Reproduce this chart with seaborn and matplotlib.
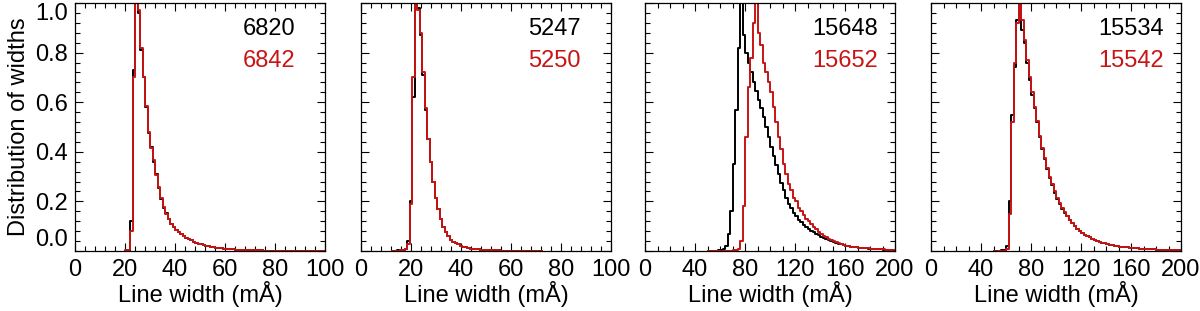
import numpy as np
import matplotlib
matplotlib.use("Agg")
import matplotlib.pyplot as plt
import seaborn as sns
from matplotlib.ticker import MultipleLocator

# line names shown in each panel (black, red)
labels = [("6820", "6842"), ("5247", "5250"), ("15648", "15652"), ("15534", "15542")]

# panel 1: bins of 1 mA starting at 20
p1_start, p1_width = 20, 1
p1_black = [0, 0, 0.12, 0.73, 1.0, 0.96, 0.81, 0.70, 0.58, 0.475,
            0.42, 0.36, 0.31, 0.255, 0.21, 0.175, 0.155, 0.128, 0.108, 0.095,
            0.085, 0.075, 0.067, 0.060, 0.054, 0.048, 0.043, 0.038, 0.034, 0.030,
            0.027, 0.024, 0.021, 0.019, 0.017, 0.015, 0.013, 0.012, 0.011, 0.010,
            0.009, 0.008, 0.007, 0.007, 0.006, 0.006, 0.005, 0.005, 0.004, 0.004,
            0.004, 0.003, 0.003, 0.003, 0.003, 0.002, 0.002, 0.002, 0.002, 0.002,
            0.002, 0.002, 0.002, 0.001, 0.001, 0.001, 0.001, 0.001, 0.001, 0.001,
            0.001, 0.001, 0.001, 0.001, 0.001, 0.001, 0.001, 0.001, 0.001, 0.001]
p1_red = [0.004, 0.003, 0.08, 0.70, 1.0, 0.97, 0.82, 0.70, 0.585, 0.48,
          0.415, 0.365, 0.305, 0.26, 0.215, 0.178, 0.15, 0.13, 0.11, 0.096,
          0.086, 0.076, 0.068, 0.061, 0.054, 0.048, 0.043, 0.038, 0.034, 0.030,
          0.027, 0.024, 0.021, 0.019, 0.017, 0.015, 0.013, 0.012, 0.011, 0.010,
          0.009, 0.008, 0.007, 0.007, 0.006, 0.006, 0.005, 0.005, 0.004, 0.004,
          0.004, 0.003, 0.003, 0.003, 0.003, 0.002, 0.002, 0.002, 0.002, 0.002,
          0.002, 0.002, 0.002, 0.001, 0.001, 0.001, 0.001, 0.001, 0.001, 0.001,
          0.001, 0.001, 0.001, 0.001, 0.001, 0.001, 0.001, 0.001, 0.001, 0.001]

# panel 2: bins of 1 mA starting at 12.5
p2_start, p2_width = 12.5, 1
p2_black = [0, 0.002, 0.003, 0.004, 0.005, 0.010, 0.04, 0.20, 0.62, 1.0,
            0.98, 0.87, 0.71, 0.57, 0.45, 0.36, 0.28, 0.215, 0.17, 0.13,
            0.095, 0.075, 0.06, 0.045, 0.038, 0.032, 0.027, 0.022, 0.018, 0.015,
            0.012, 0.010, 0.009, 0.008, 0.007, 0.006, 0.005, 0.005, 0.004, 0.004,
            0.003, 0.003, 0.003, 0.002, 0.002, 0.002, 0.002, 0.002, 0.001, 0.001,
            0.001, 0.001, 0.001, 0.001, 0.001, 0.001, 0.001, 0.001, 0.001, 0.001]
p2_red = [0, 0.001, 0.002, 0.003, 0.004, 0.008, 0.03, 0.19, 0.70, 1.0,
          0.97, 0.88, 0.72, 0.575, 0.45, 0.36, 0.28, 0.215, 0.17, 0.13,
          0.095, 0.075, 0.06, 0.045, 0.038, 0.032, 0.027, 0.022, 0.018, 0.015,
          0.012, 0.010, 0.009, 0.008, 0.007, 0.006, 0.005, 0.005, 0.004, 0.004,
          0.003, 0.003, 0.003, 0.002, 0.002, 0.002, 0.002, 0.002, 0.001, 0.001,
          0.001, 0.001, 0.001, 0.001, 0.001, 0.001, 0.001, 0.001, 0.001, 0.001]

# panel 3: bins of 2 mA starting at 50
p3_start, p3_width = 50, 2
p3_black = [0, 0.001, 0.002, 0.002, 0.003, 0.004, 0.008, 0.02, 0.07, 0.16,
            0.35, 0.57, 0.82, 1.0, 0.87, 0.80, 0.76, 0.72, 0.68, 0.645,
            0.61, 0.575, 0.54, 0.50, 0.46, 0.42, 0.385, 0.345, 0.31, 0.275,
            0.245, 0.215, 0.19, 0.175, 0.155, 0.14, 0.125, 0.115, 0.105, 0.095,
            0.088, 0.080, 0.075, 0.068, 0.063, 0.058, 0.053, 0.048, 0.044, 0.040,
            0.036, 0.033, 0.030, 0.027, 0.025, 0.022, 0.020, 0.018, 0.017, 0.015,
            0.014, 0.013, 0.012, 0.011, 0.010, 0.009, 0.008, 0.008, 0.007, 0.007,
            0.006, 0.006, 0.005, 0.005, 0.004]
p3_red = [0, 0, 0, 0, 0, 0, 0, 0, 0, 0.002,
          0.003, 0.005, 0.01, 0.04, 0.18, 0.46, 0.66, 0.78, 0.92, 1.0,
          0.88, 0.83, 0.76, 0.72, 0.68, 0.64, 0.58, 0.52, 0.46, 0.41,
          0.35, 0.31, 0.27, 0.245, 0.215, 0.20, 0.175, 0.16, 0.145, 0.13,
          0.12, 0.11, 0.098, 0.088, 0.078, 0.068, 0.062, 0.056, 0.050, 0.045,
          0.040, 0.036, 0.032, 0.029, 0.026, 0.022, 0.020, 0.018, 0.016, 0.015,
          0.014, 0.013, 0.012, 0.012, 0.011, 0.010, 0.009, 0.008, 0.008, 0.007,
          0.007, 0.006, 0.006, 0.005, 0.005]

# panel 4: bins of 2 mA starting at 50
p4_start, p4_width = 50, 2
p4_black = [0, 0.001, 0.002, 0.003, 0.005, 0.02, 0.20, 0.55, 0.74, 0.93,
            1.0, 0.89, 0.84, 0.76, 0.69, 0.63, 0.575, 0.52, 0.46, 0.41,
            0.37, 0.33, 0.295, 0.265, 0.235, 0.21, 0.19, 0.17, 0.155, 0.14,
            0.125, 0.112, 0.10, 0.09, 0.08, 0.073, 0.066, 0.06, 0.055, 0.05,
            0.046, 0.042, 0.038, 0.034, 0.031, 0.028, 0.026, 0.024, 0.022, 0.020,
            0.018, 0.017, 0.016, 0.015, 0.014, 0.013, 0.012, 0.011, 0.010, 0.009,
            0.009, 0.008, 0.008, 0.007, 0.007, 0.006, 0.006, 0.006, 0.005, 0.005,
            0.005, 0.004, 0.004, 0.004, 0.004]
p4_red = [0, 0, 0.001, 0.001, 0.002, 0.01, 0.15, 0.52, 0.76, 0.92,
          1.0, 0.93, 0.85, 0.77, 0.70, 0.64, 0.58, 0.525, 0.465, 0.415,
          0.375, 0.335, 0.30, 0.27, 0.24, 0.215, 0.193, 0.172, 0.156, 0.14,
          0.125, 0.112, 0.10, 0.09, 0.08, 0.073, 0.066, 0.06, 0.055, 0.05,
          0.046, 0.042, 0.038, 0.034, 0.031, 0.028, 0.026, 0.024, 0.022, 0.020,
          0.018, 0.017, 0.016, 0.015, 0.014, 0.013, 0.012, 0.011, 0.010, 0.009,
          0.009, 0.008, 0.008, 0.007, 0.007, 0.006, 0.006, 0.006, 0.005, 0.005,
          0.005, 0.004, 0.004, 0.004, 0.004]

panels = [
    (p1_start, p1_width, p1_black, p1_red, 100, 20, 4),
    (p2_start, p2_width, p2_black, p2_red, 100, 20, 4),
    (p3_start, p3_width, p3_black, p3_red, 200, 40, 10),
    (p4_start, p4_width, p4_black, p4_red, 200, 40, 10),
]

sns.set_style("ticks")
plt.rcParams['font.family'] = ['Liberation Sans', 'DejaVu Sans']
plt.rcParams.update({'text.color': 'black', 'axes.labelcolor': 'black',
                     'xtick.color': 'black', 'ytick.color': 'black',
                     'axes.edgecolor': 'black'})
FS = 17

RED = "#c81414"
fig = plt.figure(figsize=(12, 3.11), dpi=100)
lefts = [75, 361, 645, 931]

for i, (start, width, black, red, xmax, major, minor) in enumerate(panels):
    ax = fig.add_axes([lefts[i] / 1200, 60 / 311, 250 / 1200, 248 / 311])
    edges = list(start + width * np.arange(len(black) + 1))
    centers = [e + width / 2 for e in edges[:-1]]
    sns.histplot(x=centers, weights=black, bins=edges, element="step", fill=False,
                 color="black", linewidth=1.4, ax=ax)
    sns.histplot(x=centers, weights=red, bins=edges, element="step", fill=False,
                 color=RED, linewidth=1.4, ax=ax)
    ax.set_xlim(0, xmax)
    ax.set_ylim(0, 1.0)
    ax.xaxis.set_major_locator(MultipleLocator(major))
    ax.xaxis.set_minor_locator(MultipleLocator(minor))
    ax.set_yticks([0, 0.2, 0.4, 0.6, 0.8, 1.0])
    ax.yaxis.set_minor_locator(MultipleLocator(0.04))
    ax.tick_params(which="both", direction="in", top=True, right=True, labelsize=FS,
                   color="black", labelcolor="black")
    ax.tick_params(which="major", length=6, width=0.8)
    ax.tick_params(which="minor", length=3.5, width=0.8)
    ax.tick_params(axis="x", pad=6)
    ax.tick_params(axis="y", pad=5)
    for s in ax.spines.values():
        s.set_linewidth(0.9)
        s.set_color("black")
    ax.set_xlabel("Line width (mÅ)", fontsize=FS, labelpad=0, color="black")
    if i == 0:
        ax.set_yticklabels(["0.0", "0.2", "0.4", "0.6", "0.8", "1.0"])
        ylabs = ax.get_yticklabels()
        ylabs[0].set_va("bottom")
        ylabs[-1].set_va("top")
        ax.set_ylabel("Distribution of widths", fontsize=FS, labelpad=4, color="black")
    else:
        ax.set_yticklabels([])
        ax.set_ylabel("")
    ax.text(0.67, 0.895, labels[i][0], color="black", fontsize=FS,
            ha="left", va="center", transform=ax.transAxes)
    ax.text(0.67, 0.766, labels[i][1], color=RED, fontsize=FS,
            ha="left", va="center", transform=ax.transAxes)

fig.savefig("out.png", dpi=100)
